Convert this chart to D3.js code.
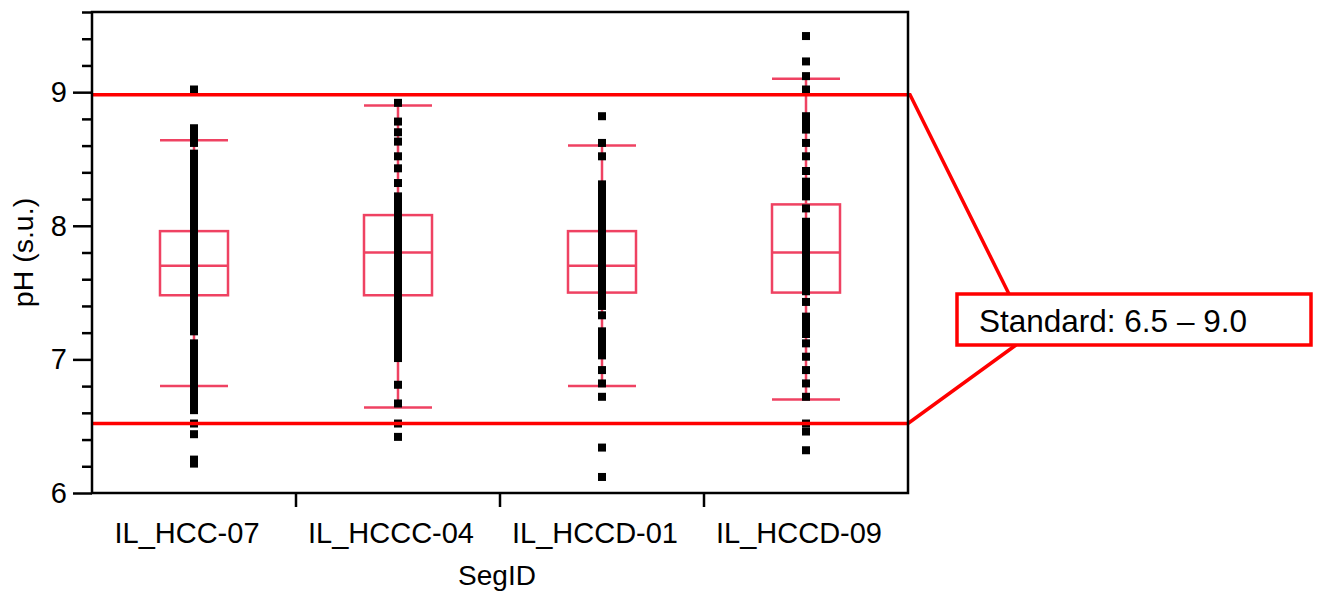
<!DOCTYPE html>
<html lang="en">
<head>
    <meta charset="UTF-8">
    <title>pH by SegID</title>
    <script src="https://d3js.org/d3.v7.min.js"></script>
    <style>
        body {
            margin: 0;
            padding: 0;
            background: #fff;
            font-family: "Liberation Sans", Arial, sans-serif;
        }
        svg {
            display: block;
        }
        .box {
            fill: none;
            stroke: #ef4262;
            stroke-width: 2.5px;
        }
        .pt {
            fill: #000;
        }
        .std {
            fill: none;
            stroke: #ff0000;
            stroke-width: 3.5px;
        }
    </style>
</head>
<body>
<svg id="chart" width="1317" height="595"></svg>

<script>
    // categories
    const segIds = ["IL_HCC-07", "IL_HCCC-04", "IL_HCCD-01", "IL_HCCD-09"];

    // box summaries: [lower cap, q1, median, q3, upper cap]
    const boxStats = [
        [6.80, 7.48, 7.70, 7.96, 8.64],
        [6.64, 7.48, 7.80, 8.08, 8.90],
        [6.80, 7.50, 7.70, 7.96, 8.60],
        [6.70, 7.50, 7.80, 8.16, 9.10]
    ];

    // observed pH values (one list per SegID)
    const phHCC07 = [9.02, 8.73, 8.70, 8.67, 8.64, 8.62,
        8.54, 8.51, 8.48, 8.45, 8.42, 8.40, 8.37, 8.34, 8.31, 8.28, 8.25, 8.22, 8.20, 8.17, 8.14, 8.11,
        8.08, 8.05, 8.02, 8.00, 7.97, 7.94, 7.91, 7.88, 7.85, 7.82, 7.80, 7.77, 7.74, 7.71, 7.68, 7.65,
        7.62, 7.60, 7.57, 7.54, 7.51, 7.48, 7.45, 7.42, 7.40, 7.37, 7.34, 7.31, 7.28, 7.25, 7.22, 7.21,
        7.12, 7.09, 7.06, 7.03, 7.00, 6.97, 6.94, 6.91, 6.88, 6.85, 6.82, 6.79, 6.76, 6.73, 6.70, 6.67,
        6.64, 6.62, 6.52, 6.44, 6.25, 6.22];

    const phHCCC04 = [8.92, 8.78, 8.70, 8.63, 8.52, 8.43, 8.32,
        8.22, 8.19, 8.16, 8.12, 8.09, 8.06, 8.03, 8.00, 7.97, 7.94, 7.91, 7.88, 7.85, 7.82, 7.80, 7.77,
        7.74, 7.71, 7.68, 7.65, 7.62, 7.60, 7.57, 7.54, 7.51, 7.48, 7.45, 7.42, 7.40, 7.36, 7.33, 7.30,
        7.27, 7.24, 7.21, 7.18, 7.15, 7.12, 7.09, 7.06, 7.03, 7.01,
        6.81, 6.67, 6.52, 6.42];

    const phHCCD01 = [8.82, 8.62, 8.52,
        8.31, 8.28, 8.25, 8.22, 8.19, 8.16, 8.13, 8.10, 8.07, 8.04, 8.01, 7.98, 7.95, 7.92, 7.89, 7.86,
        7.83, 7.80, 7.77, 7.74, 7.71, 7.68, 7.65, 7.62, 7.59, 7.56, 7.53, 7.50, 7.47, 7.44, 7.41, 7.40,
        7.33, 7.21, 7.18, 7.15, 7.12, 7.09, 7.06, 7.03,
        6.92, 6.82, 6.72, 6.34, 6.12];

    const phHCCD09 = [9.42, 9.23, 9.12, 9.02, 8.82, 8.78, 8.75, 8.72, 8.62, 8.52, 8.41,
        8.33, 8.29, 8.26, 8.22, 8.13,
        8.03, 8.00, 7.97, 7.94, 7.91, 7.88, 7.85, 7.82, 7.80, 7.77, 7.74, 7.71, 7.68, 7.65, 7.62, 7.59,
        7.56, 7.53, 7.51, 7.43, 7.32, 7.29, 7.26, 7.22, 7.19, 7.12, 7.02, 6.92, 6.82, 6.72,
        6.52, 6.46, 6.32];

    const phValues = [phHCC07, phHCCC04, phHCCD01, phHCCD09];

    // standard band drawn on the chart
    const stdLow = 6.52;
    const stdHigh = 8.98;
    const stdLabel = "Standard: 6.5 \u2013 9.0";

    // axis ticks
    const majorTicks = [6, 7, 8, 9];
    const minorTicks = [6.2, 6.4, 6.6, 6.8, 7.2, 7.4, 7.6, 7.8, 8.2, 8.4, 8.6, 8.8, 9.2, 9.4, 9.6];

    const svg = d3.select("#chart");
    const plot = { left: 92, right: 908, top: 12, bottom: 493 };

    const x = d3.scaleBand().domain(segIds).range([plot.left, plot.right]).padding(0);
    const y = d3.scaleLinear().domain([6, 9.6]).range([plot.bottom, plot.top]);

    const boxW = 68;
    const ptSize = 8;

    // box plots
    segIds.forEach((id, i) => {
        const cx = x(id) + x.bandwidth() / 2;
        const [lo, q1, med, q3, hi] = boxStats[i];
        const g = svg.append("g").attr("class", "box");

        g.append("line").attr("x1", cx).attr("x2", cx).attr("y1", y(hi)).attr("y2", y(lo));
        g.append("line").attr("x1", cx - boxW / 2).attr("x2", cx + boxW / 2).attr("y1", y(hi)).attr("y2", y(hi));
        g.append("line").attr("x1", cx - boxW / 2).attr("x2", cx + boxW / 2).attr("y1", y(lo)).attr("y2", y(lo));
        g.append("rect")
            .attr("x", cx - boxW / 2)
            .attr("y", y(q3))
            .attr("width", boxW)
            .attr("height", y(q1) - y(q3))
            .style("fill", "none");
        g.append("line").attr("x1", cx - boxW / 2).attr("x2", cx + boxW / 2).attr("y1", y(med)).attr("y2", y(med));
    });

    // points
    segIds.forEach((id, i) => {
        const cx = x(id) + x.bandwidth() / 2;
        svg.append("g").selectAll("rect")
            .data(phValues[i])
            .enter().append("rect")
            .attr("class", "pt")
            .attr("x", cx - ptSize / 2)
            .attr("y", d => y(d) - ptSize / 2)
            .attr("width", ptSize)
            .attr("height", ptSize);
    });

    // standard lines + callout
    const boxLeft = 957, boxRight = 1311, boxTop = 294, boxBottom = 345;
    svg.append("polyline")
        .attr("class", "std")
        .attr("points", [[plot.left, y(stdHigh)], [plot.right + 2, y(stdHigh)], [1009, boxTop]].join(" "));
    svg.append("polyline")
        .attr("class", "std")
        .attr("points", [[plot.left, y(stdLow)], [plot.right, y(stdLow)], [1016, boxBottom]].join(" "));
    svg.append("rect")
        .attr("class", "std")
        .attr("x", boxLeft)
        .attr("y", boxTop)
        .attr("width", boxRight - boxLeft)
        .attr("height", boxBottom - boxTop)
        .style("fill", "#fff");
    svg.append("text")
        .attr("x", 979)
        .attr("y", 332)
        .style("font-size", "31.5px")
        .text(stdLabel);

    // frame
    svg.append("rect")
        .attr("x", plot.left)
        .attr("y", plot.top)
        .attr("width", plot.right - plot.left)
        .attr("height", plot.bottom - plot.top)
        .style("fill", "none")
        .style("stroke", "#000")
        .style("stroke-width", 2.5);

    // y axis
    const yMajor = svg.append("g")
        .attr("transform", `translate(${plot.left},0)`)
        .call(d3.axisLeft(y).tickValues(majorTicks).tickSize(19).tickPadding(6).tickFormat(d3.format("d")));
    yMajor.select(".domain").remove();
    yMajor.selectAll("line").style("stroke-width", 2.5);
    yMajor.selectAll("text").style("font-size", "29px").style("font-family", "Liberation Sans, Arial, sans-serif");

    const yMinor = svg.append("g")
        .attr("transform", `translate(${plot.left},0)`)
        .call(d3.axisLeft(y).tickValues(minorTicks).tickSize(10).tickFormat(""));
    yMinor.select(".domain").remove();
    yMinor.selectAll("line").style("stroke-width", 2.5);

    // x axis: category labels + separators
    const xAxis = svg.append("g")
        .attr("transform", `translate(0,${plot.bottom})`)
        .call(d3.axisBottom(x).tickSize(0).tickPadding(29));
    xAxis.select(".domain").remove();
    xAxis.selectAll("text")
        .attr("dx", -7)
        .style("font-size", "29px")
        .style("font-family", "Liberation Sans, Arial, sans-serif");

    svg.append("g").selectAll("line")
        .data(segIds.slice(1))
        .enter().append("line")
        .attr("x1", d => x(d)).attr("x2", d => x(d))
        .attr("y1", plot.bottom).attr("y2", plot.bottom + 14)
        .style("stroke", "#000")
        .style("stroke-width", 2.5);

    // axis titles
    svg.append("text")
        .attr("x", (plot.left + plot.right) / 2 - 3)
        .attr("y", 585)
        .attr("text-anchor", "middle")
        .style("font-size", "28px")
        .text("SegID");

    svg.append("text")
        .attr("transform", `translate(33,${(plot.top + plot.bottom) / 2}) rotate(-90)`)
        .attr("text-anchor", "middle")
        .style("font-size", "28.5px")
        .text("pH (s.u.)");
</script>
</body>
</html>
